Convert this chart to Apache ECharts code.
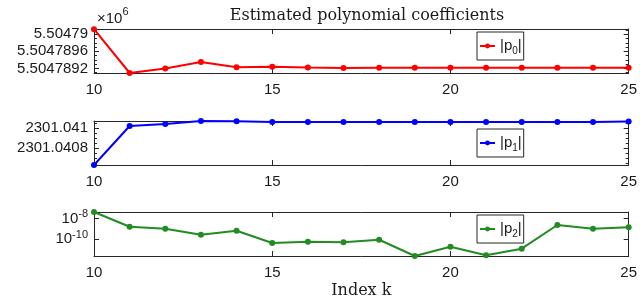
<!DOCTYPE html>
<html><head><meta charset="utf-8">
<script src="https://cdn.jsdelivr.net/npm/echarts@6/dist/echarts.min.js"></script>
<style>html,body{margin:0;padding:0;background:#fff}#c{width:640px;height:307px}</style>
</head><body><div id="c"></div>
<script>
// ---- data ----
const kValues  = [10,11,12,13,14,15,16,17,18,19,20,21,22,23,24,25];
const p0Values = [5504790.12,5504789.093,5504789.20,5504789.35,5504789.23,5504789.24,5504789.22,5504789.21,5504789.215,5504789.215,5504789.215,5504789.215,5504789.215,5504789.215,5504789.215,5504789.215];
const p1Values = [2301.04063,2301.04102,2301.04104,2301.04107,2301.041067,2301.04106,2301.04106,2301.04106,2301.04106,2301.04106,2301.04106,2301.04106,2301.04106,2301.04106,2301.04106,2301.041065];
const p2Values = [4.47e-8,1.66e-9,1.07e-9,2.82e-10,6.76e-10,4.37e-11,5.89e-11,5.13e-11,9.12e-11,2.40e-12,1.91e-11,2.82e-12,1.23e-11,2.45e-9,1.07e-9,1.48e-9];
const seriesNames = ['p0','p1','p2'];
const xTicks = [10,15,20,25];
const p0Ticks = [5504789.2,5504789.6,5504790.0];
const p1Ticks = [2301.0408,2301.041];
const p2Ticks = [1e-10,1e-8];
const p0Range = [5504789.093,5504790.123];
const p1Range = [2301.04063,2301.04107];
const p2Range = [2.4e-12,4.47e-8];
const p0MinorStep = 0.1;
const p1MinorStep = 0.00005;

// ---- helpers ----
const AX = '#262626';
const TXT = '#1a1a1a';
const SANS = 'Liberation Sans';
const colors = ['#ff0000','#0000ff','#228b22'];

function minorVals(range, step){
  const out = [];
  const s = Math.ceil(range[0]/step - 1e-9);
  const e = Math.floor(range[1]/step + 1e-9);
  for (let i = s; i <= e; i++) out.push(+(i*step).toFixed(8));
  return out;
}
const data = [p0Values,p1Values,p2Values].map(vals => kValues.map((k,i)=>[k, vals[i]]));

const gridTops = [29,121,212];
const grids = gridTops.map(t => ({left:94, right:9, top:t, height:44}));

const xAxes = [];
grids.forEach((g,i) => {
  const base = {type:'value', gridIndex:i, min:xTicks[0], max:xTicks[xTicks.length-1], interval:5,
    splitLine:{show:false},
    axisLine:{show:true, onZero:false, lineStyle:{color:AX, width:1}},
    axisTick:{show:true, inside:true, length:5, lineStyle:{color:AX}}};
  xAxes.push(Object.assign({}, base, {position:'bottom',
    axisLabel:{show:true, margin:9, fontFamily:SANS, fontSize:15, color:TXT},
    name: i===2 ? 'Index k' : '', nameLocation:'middle', nameGap:27,
    nameTextStyle:{fontFamily:'DejaVu Serif', fontSize:16, color:TXT}}));
  xAxes.push(Object.assign({}, base, {position:'top', axisLabel:{show:false}}));
});

const yAxes = [];
function addY(gi, cfg){
  const type = cfg.log ? 'log' : 'value';
  const common = {type, gridIndex:gi, min:cfg.range[0], max:cfg.range[1], splitLine:{show:false}};
  if (cfg.log) common.logBase = 10;
  yAxes.push(Object.assign({}, common, {position:'left',
    axisLine:{show:true, onZero:false, lineStyle:{color:AX}},
    axisTick:{show:true, inside:true, length:5, customValues:cfg.ticks, lineStyle:{color:AX}},
    axisLabel:Object.assign({show:true, margin:6, customValues:cfg.ticks, formatter:cfg.fmt,
      fontFamily:SANS, fontSize:15, color:TXT}, cfg.labelExtra||{}),
    name: cfg.name||'', nameLocation:'end', nameGap:3,
    nameTextStyle: cfg.nameStyle||{}}));
  yAxes.push(Object.assign({}, common, {position:'right',
    axisLine:{show:true, onZero:false, lineStyle:{color:AX}},
    axisTick:{show:true, inside:true, length:5, customValues:cfg.ticks, lineStyle:{color:AX}},
    axisLabel:{show:false}}));
  if (cfg.minor){
    ['left','right'].forEach(pos => {
      yAxes.push(Object.assign({}, common, {position:pos,
        axisLine:{show:false},
        axisTick:{show:true, inside:true, length:3, customValues:cfg.minor, lineStyle:{color:AX}},
        axisLabel:{show:false}}));
    });
  }
}
const yIdx = [];
yIdx.push(yAxes.length);
addY(0, {range:p0Range, ticks:p0Ticks, minor:minorVals(p0Range,p0MinorStep),
  fmt: v => (v/1e6).toFixed(7).replace(/0+$/,'').replace(/\.$/,''),
  name:'{b|×10}{s|6}',
  nameStyle:{align:'left', verticalAlign:'bottom', padding:[0,0,0,3], fontFamily:SANS, fontSize:15, color:TXT, lineHeight:20,
    rich:{b:{fontFamily:SANS, fontSize:15, color:TXT, lineHeight:20, verticalAlign:'bottom'},
          s:{fontFamily:SANS, fontSize:11, color:TXT, lineHeight:11, verticalAlign:'top'}}}});
yIdx.push(yAxes.length);
addY(1, {range:p1Range, ticks:p1Ticks, minor:minorVals(p1Range,p1MinorStep),
  fmt: v => v.toFixed(4).replace(/0+$/,'').replace(/\.$/,'')});
yIdx.push(yAxes.length);
addY(2, {range:p2Range, ticks:p2Ticks, log:true,
  fmt: v => '10{s|' + Math.round(Math.log10(v)) + '}',
  labelExtra:{lineHeight:20, rich:{s:{fontFamily:SANS, fontSize:11, color:TXT, lineHeight:11, verticalAlign:'top'}}}});

const series = data.map((d,i) => ({
  name: seriesNames[i], type:'line', xAxisIndex:i*2, yAxisIndex:yIdx[i], data:d,
  symbol:'circle', symbolSize:6, showSymbol:true, clip:false,
  itemStyle:{color:colors[i]}, lineStyle:{color:colors[i], width:2}, animation:false
}));

const legendTops = [32,129,215];
const legends = seriesNames.map((n,i) => ({
  data:[n], left:477, top:legendTops[i], orient:'horizontal',
  backgroundColor:'#fff', borderColor:AX, borderWidth:1, borderRadius:0,
  padding:[4,2,4,2], itemWidth:15, itemHeight:6, itemGap:0,
  formatter: name => '|p{s|' + name.slice(1) + '}|',
  textStyle:{fontFamily:SANS, fontSize:15, color:TXT, lineHeight:20,
    rich:{s:{fontFamily:SANS, fontSize:10, color:TXT, lineHeight:10, verticalAlign:'bottom'}}}
}));

const chart = echarts.init(document.getElementById('c'), null, {renderer:'canvas'});
chart.setOption({
  animation:false,
  backgroundColor:'#fff',
  title:{text:'Estimated polynomial coefficients', left:362, top:3, textAlign:'center',
    textStyle:{fontFamily:'DejaVu Serif', fontSize:16, fontWeight:'normal', color:TXT}},
  grid:grids, xAxis:xAxes, yAxis:yAxes, legend:legends, series:series
});
</script></body></html>
